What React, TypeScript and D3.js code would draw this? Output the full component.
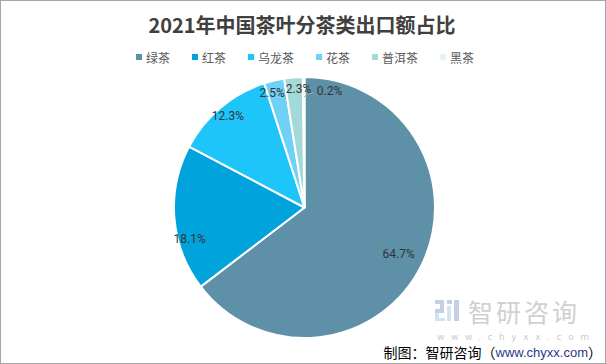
import React from "react";
import * as d3 from "d3";

const title = "2021年中国茶叶分茶类出口额占比";
const categories = ["绿茶", "红茶", "乌龙茶", "花茶", "普洱茶", "黑茶"];
const shares = [64.7, 18.1, 12.3, 2.5, 2.3, 0.2];
const colors = ["#5e91a7", "#00a3db", "#1ec5fa", "#6ed1f5", "#a3d9d9", "#e4f4f7"];
const sourceLabel = "制图：智研咨询（";
const sourceUrl = "www.chyxx.com";

const W = 606;
const H = 364;
const CX = 304.5;
const CY = 207.5;
const R = 130.5;
// label placement tweaks (degrees) mimicking Excel "best fit"
const LABEL_SHIFT = [0, -10.5, 0, -2.3, 2, 0];

export default function App() {
  const pie = d3
    .pie<number>()
    .sort(null)
    .value((d) => d)
    .startAngle(0)
    .endAngle(Math.PI * 2);
  const arcs = pie(shares);
  const arc = d3.arc<d3.PieArcDatum<number>>().innerRadius(0).outerRadius(R);

  const polar = (a: number, r: number): [number, number] => [
    CX + r * Math.sin(a),
    CY - r * Math.cos(a),
  ];

  const legendFont = 12;
  const itemW = categories.map((c) => 6 + 4 + c.length * legendFont + 22);
  const totalW = itemW.reduce((a, b) => a + b, 0) - 22;
  let lx = 305 - totalW / 2;
  const legendItems = categories.map((c, i) => {
    const x = lx;
    lx += itemW[i];
    return { c, x, color: colors[i] };
  });

  const labelFont = "Roboto, sans-serif";

  return (
    <div style={{ position: "fixed", left: 0, top: 0 }}>
      <svg width={W} height={H} style={{ display: "block", background: "#fff" }}>
        <rect x={0.5} y={0.5} width={W - 1} height={H - 1} fill="#fff" stroke="#a6a6a6" />
        <text
          x={302}
          y={24}
          textAnchor="middle"
          dominantBaseline="central"
          fontFamily="'Noto Sans CJK SC', sans-serif"
          fontWeight={700}
          fontSize={20}
          fill="#404040"
        >
          {title}
        </text>
        {legendItems.map((it) => (
          <g key={it.c}>
            <rect x={it.x} y={54} width={6} height={6} fill={it.color} />
            <text
              x={it.x + 10}
              y={57.5}
              dominantBaseline="central"
              fontFamily="'Noto Sans CJK SC', sans-serif"
              fontSize={legendFont}
              fill="#595959"
            >
              {it.c}
            </text>
          </g>
        ))}
        <g>
          {arcs.map((a, i) => (
            <path
              key={i}
              d={arc(a) || ""}
              transform={`translate(${CX},${CY})`}
              fill={colors[i]}
              stroke="#fff"
              strokeWidth={2}
              strokeLinejoin="round"
            />
          ))}
        </g>
        {arcs.map((a, i) => {
          const mid = (a.startAngle + a.endAngle) / 2;
          const txt = `${shares[i].toFixed(1)}%`;
          if (shares[i] < 1) {
            const [sx, sy] = polar(mid, R - 20);
            const ex = sx + 10;
            const ey = sy - 4;
            return (
              <g key={i}>
                <path
                  d={`M${sx},${sy} Q${sx + 3},${ey} ${ex},${ey}`}
                  fill="none"
                  stroke="#a6a6a6"
                  strokeWidth={1}
                />
                <text
                  x={ex + 3}
                  y={ey - 2}
                  dominantBaseline="central"
                  fontFamily={labelFont}
                  fontSize={12}
                  fill="#333"
                >
                  {txt}
                </text>
              </g>
            );
          }
          const r = i === 0 ? 105 : 119;
          const ang = mid + (LABEL_SHIFT[i] * Math.PI) / 180;
          const [x, y] = polar(ang, r);
          return (
            <text
              key={i}
              x={x}
              y={y}
              textAnchor="middle"
              dominantBaseline="central"
              fontFamily={labelFont}
              fontSize={12}
              fill="#333"
            >
              {txt}
            </text>
          );
        })}
        {/* watermark */}
        <g>
          <rect x={435} y={300} width={9} height={4} fill="#c4cfe4" />
          <rect x={440} y={300} width={4} height={11} fill="#c4cfe4" />
          <rect x={435} y={309} width={9} height={4} fill="#c4cfe4" />
          <rect x={435} y={313} width={4} height={8} fill="#d2e4f2" />
          <rect x={435} y={318} width={10} height={3} fill="#d2e4f2" />
          <rect x={447} y={300} width={5} height={4} fill="#c4cfe4" />
          <rect x={447} y={306} width={4} height={15} fill="#d2e4f2" />
          <rect x={454} y={300} width={5} height={21} fill="#c4cfe4" />
          <text
            x={468}
            y={311}
            dominantBaseline="central"
            fontFamily="'Noto Sans CJK SC', sans-serif"
            fontSize={25}
            fill="#d0d0d0"
            letterSpacing={3}
          >
            智研咨询
          </text>
          <text
            x={437}
            y={336.5}
            dominantBaseline="central"
            fontFamily="'DejaVu Sans', sans-serif"
            fontSize={9}
            fill="#cccccc"
            letterSpacing={6.6}
          >
            www.chyxx.com
          </text>
        </g>
        <text
          x={602}
          y={352}
          textAnchor="end"
          dominantBaseline="central"
          fontFamily="'Noto Sans CJK SC', sans-serif"
          fontSize={14}
          fill="#000"
        >
          {sourceLabel}
          <tspan fill="#1f3a8a" fontFamily="'Liberation Sans', sans-serif" fontSize={13}>
            {sourceUrl}
          </tspan>
          <tspan>）</tspan>
        </text>
      </svg>
    </div>
  );
}
